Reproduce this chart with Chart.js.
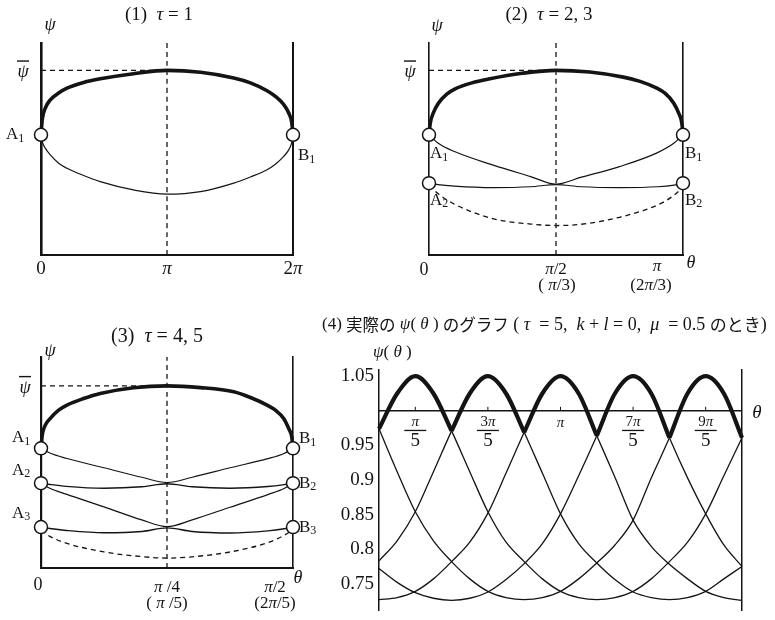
<!DOCTYPE html>
<html>
<head>
<meta charset="utf-8">
<script src="https://cdn.jsdelivr.net/npm/chart.js@4.4.1/dist/chart.umd.min.js"></script>
<style>
  html, body { margin: 0; padding: 0; background: #fff; }
  body { position: relative; width: 775px; height: 620px; overflow: hidden; }
  .panel { position: absolute; }
</style>
</head>
<body>
<div class="panel" style="left:0;top:0;width:330px;height:290px"><canvas id="p1"></canvas></div>
<div class="panel" style="left:390px;top:0;width:385px;height:305px"><canvas id="p2"></canvas></div>
<div class="panel" style="left:0;top:290px;width:330px;height:330px"><canvas id="p3"></canvas></div>
<div class="panel" style="left:320px;top:310px;width:455px;height:310px"><canvas id="p4"></canvas></div>
<script>
// θ in units of π, ψ normalised to the axis height for the sketches (1)-(3)
const theta1 = [0, 0.01, 0.034, 0.074, 0.14, 0.206, 0.338, 0.47, 0.734, 1, 1.266, 1.53, 1.662, 1.794, 1.86, 1.926, 1.966, 1.99, 2];
const p1Upper = [0.567, 0.640, 0.693, 0.732, 0.764, 0.787, 0.814, 0.831, 0.855, 0.871, 0.862, 0.835, 0.812, 0.775, 0.748, 0.710, 0.670, 0.625, 0.567];
const p1Lower = [0.567, 0.535, 0.504, 0.472, 0.433, 0.409, 0.375, 0.346, 0.307, 0.287, 0.299, 0.339, 0.368, 0.402, 0.428, 0.465, 0.496, 0.530, 0.567];
const p1TickVals = [0, 1, 2];
const p1TickText = ["0", "π", "2π"];

const theta2Thin = [0, 0.035, 0.1, 0.25, 0.4, 0.5, 0.6, 0.75, 0.9, 0.965, 1];
const theta2Thick = [0, 0.005, 0.017, 0.037, 0.07, 0.103, 0.169, 0.235, 0.367, 0.5, 0.633, 0.765, 0.831, 0.897, 0.93, 0.963, 0.983, 0.995, 1];
const p2Upper = [0.567, 0.622, 0.670, 0.716, 0.759, 0.784, 0.812, 0.830, 0.857, 0.871, 0.863, 0.839, 0.819, 0.787, 0.762, 0.717, 0.669, 0.625, 0.567];
const p2Lower1 = [0.567, 0.528, 0.488, 0.425, 0.370, 0.334, 0.367, 0.417, 0.483, 0.528, 0.567];
const p2Flat2 = [0.339, 0.332, 0.325, 0.318, 0.322, 0.332, 0.322, 0.318, 0.322, 0.330, 0.339];
const p2Dashed = [0.330, 0.290, 0.240, 0.172, 0.146, 0.139, 0.145, 0.178, 0.236, 0.282, 0.320];

const theta3Thin = [0, 0.0175, 0.05, 0.125, 0.2, 0.25, 0.3, 0.375, 0.45, 0.4825, 0.5];
const theta3Thick = [0, 0.0025, 0.0085, 0.0185, 0.035, 0.0515, 0.0845, 0.1175, 0.1835, 0.25, 0.3165, 0.3825, 0.4155, 0.4485, 0.465, 0.4815, 0.4915, 0.4975, 0.5];
const p3Upper = [0.567, 0.630, 0.677, 0.709, 0.748, 0.772, 0.803, 0.827, 0.854, 0.863, 0.855, 0.835, 0.808, 0.772, 0.748, 0.709, 0.661, 0.622, 0.567];
const p3Lower1 = [0.567, 0.545, 0.520, 0.475, 0.430, 0.405, 0.430, 0.475, 0.518, 0.543, 0.567];
const p3Flat2 = [0.402, 0.396, 0.387, 0.378, 0.385, 0.399, 0.385, 0.378, 0.386, 0.395, 0.402];
const p3Lower2 = [0.402, 0.378, 0.350, 0.290, 0.228, 0.196, 0.228, 0.288, 0.348, 0.377, 0.402];
const p3Flat3 = [0.194, 0.187, 0.178, 0.167, 0.173, 0.190, 0.173, 0.166, 0.176, 0.186, 0.194];
const p3Dashed = [0.180, 0.150, 0.118, 0.076, 0.054, 0.047, 0.053, 0.076, 0.120, 0.155, 0.180];

// (4) computed ψ(θ), τ=5 : one branch per peak
const theta4 = [0, 0.1, 0.2, 0.3, 0.4, 0.5, 0.6, 0.7, 0.8, 0.9, 1.0, 1.1, 1.2, 1.3, 1.4, 1.5, 1.6, 1.7, 1.8, 1.9, 2.0];
const arc1 = [0.974, 1.025, 1.05, 1.025, 0.971, 0.912, 0.854, 0.810, 0.782, 0.757, 0.739, 0.730, 0.727, 0.730, 0.739, 0.757, 0.782, 0.810, 0.851, 0.906, 0.961];
const arc2 = [0.783, 0.812, 0.854, 0.912, 0.971, 1.025, 1.05, 1.025, 0.969, 0.910, 0.851, 0.808, 0.780, 0.756, 0.738, 0.730, 0.727, 0.730, 0.739, 0.757, 0.775];
const arc3 = [0.727, 0.730, 0.739, 0.757, 0.782, 0.810, 0.852, 0.910, 0.969, 1.025, 1.05, 1.025, 0.964, 0.904, 0.842, 0.804, 0.778, 0.757, 0.739, 0.730, 0.726];
const arc4 = [0.772, 0.752, 0.737, 0.729, 0.726, 0.729, 0.738, 0.756, 0.779, 0.808, 0.851, 0.906, 0.964, 1.025, 1.05, 1.025, 0.961, 0.903, 0.851, 0.806, 0.775];
const arc5 = [0.974, 0.912, 0.854, 0.812, 0.782, 0.757, 0.739, 0.730, 0.727, 0.730, 0.739, 0.757, 0.780, 0.806, 0.842, 0.903, 0.961, 1.025, 1.05, 1.025, 0.961];
const yTicks4 = [1.05, 0.95, 0.9, 0.85, 0.8, 0.75];
const xTicks4 = [0.2, 0.6, 1, 1.4, 1.8];
const xTickNum4 = ["π", "3π", "π", "7π", "9π"];
const xTickDen4 = ["5", "5", "", "5", "5"];

const SERIF = "'Liberation Serif', 'DejaVu Serif', serif";
const CJK = "'Noto Sans CJK JP', sans-serif";
const LINE = "#141414";
const R = s => `${s}px ${SERIF}`;
const I = s => `italic ${s}px ${SERIF}`;

function pts(xs, ys) {
    return xs.map((x, i) => ({ x, y: ys[i] }));
}

function curve(data, width, extra) {
    return Object.assign({
        data,
        borderColor: LINE,
        borderWidth: width,
        pointRadius: 0,
        tension: 0.4,
        cubicInterpolationMode: "monotone",
        clip: false,
        fill: false,
        order: 2,
    }, extra || {});
}

function guide(data) {
    return curve(data, 1.3, { borderDash: [5, 4], tension: 0, order: 3 });
}

function nodes(data) {
    return {
        data,
        showLine: false,
        pointRadius: 6.5,
        pointBackgroundColor: "#fff",
        pointBorderColor: LINE,
        pointBorderWidth: 1.5,
        clip: false,
        order: 0,
    };
}

function frame(xMax, yMin, yMax, pad, w) {
    const axis = (min, max, width, extra) => Object.assign({
        type: "linear",
        min,
        max,
        ticks: { display: false },
        grid: { display: false, drawTicks: false },
        border: { display: width > 0, color: LINE, width: width || 1 },
    }, extra || {});
    return {
        responsive: true,
        maintainAspectRatio: false,
        animation: false,
        events: [],
        layout: { padding: pad },
        plugins: { legend: { display: false }, tooltip: { enabled: false } },
        scales: {
            x: axis(0, xMax, w.bottom, { position: "bottom" }),
            y: axis(yMin, yMax, w.left, { position: "left" }),
            yR: axis(yMin, yMax, w.right, { position: "right" }),
        },
    };
}

// split a label into runs: kana/kanji, italic letters, upright rest
function runs(str, size, cjkSize) {
    const out = [];
    for (const ch of str) {
        let f = R(size);
        if (/[\u3040-\u30ff\u4e00-\u9fff]/.test(ch)) f = `${cjkSize || size}px ${CJK}`;
        else if (/[a-zα-ω]/.test(ch)) f = I(size);
        const last = out[out.length - 1];
        if (last && last[1] === f) last[0] += ch;
        else out.push([ch, f]);
    }
    return out;
}

function rich(ctx, parts, x, y, align) {
    let w = 0;
    parts.forEach(p => { ctx.font = p[1]; w += ctx.measureText(p[0]).width; });
    let cx = align === "center" ? x - w / 2 : align === "right" ? x - w : x;
    ctx.textAlign = "left";
    ctx.textBaseline = "middle";
    parts.forEach(p => {
        ctx.font = p[1];
        ctx.fillText(p[0], cx, y + (p[2] || 0));
        cx += ctx.measureText(p[0]).width;
    });
    return cx;
}

function text(ctx, str, size, x, y, align) {
    return rich(ctx, runs(str, size), x, y, align);
}

function point(ctx, base, sub, x, y) {
    rich(ctx, [[base, R(17)], [sub, R(12), 4]], x, y, "left");
}

function psiBar(ctx, x, y) {
    text(ctx, "ψ", 18, x, y, "center");
    ctx.fillRect(x - 6, y - 12, 12, 1.4);
}

function scalesOf(chart) {
    return {
        X: v => chart.scales.x.getPixelForValue(v),
        Y: v => chart.scales.y.getPixelForValue(v),
        a: chart.chartArea,
        ctx: chart.ctx,
    };
}

// (1) τ = 1
const psiBar1 = Math.max(...p1Upper);
new Chart(document.getElementById("p1"), {
    type: "line",
    data: {
        datasets: [
            nodes([{ x: 0, y: p1Upper[0] }, { x: 2, y: p1Upper[p1Upper.length - 1] }]),
            curve(pts(theta1, p1Upper), 3.6, { order: 1 }),
            curve(pts(theta1, p1Lower), 1.2),
            guide([{ x: 1, y: 0 }, { x: 1, y: 1 }]),
            guide([{ x: 0, y: psiBar1 }, { x: 1, y: psiBar1 }]),
        ],
    },
    options: frame(2, 0, 1, { left: 41, top: 43, right: 37, bottom: 35 }, { left: 2.6, bottom: 2, right: 2 }),
    plugins: [{
        id: "labels1",
        afterDraw(chart) {
            const { X, Y, a, ctx } = scalesOf(chart);
            ctx.save();
            ctx.fillStyle = LINE;
            text(ctx, "(1)  τ = 1", 19, X(1) - 8, 15, "center");
            text(ctx, "ψ", 18, a.left + 9, 25, "center");
            psiBar(ctx, a.left - 18, Y(psiBar1) + 2);
            point(ctx, "A", "1", a.left - 35, Y(p1Upper[0]));
            point(ctx, "B", "1", a.right + 5, Y(p1Upper[p1Upper.length - 1]) + 21);
            p1TickVals.forEach((v, i) => text(ctx, p1TickText[i], 19, X(v), a.bottom + 14, "center"));
            ctx.restore();
        },
    }],
});

// (2) τ = 2, 3
const psiBar2 = Math.max(...p2Upper);
new Chart(document.getElementById("p2"), {
    type: "line",
    data: {
        datasets: [
            nodes([
                { x: 0, y: p2Lower1[0] }, { x: 1, y: p2Lower1[p2Lower1.length - 1] },
                { x: 0, y: p2Flat2[0] }, { x: 1, y: p2Flat2[p2Flat2.length - 1] },
            ]),
            curve(pts(theta2Thick, p2Upper), 3.6, { order: 1 }),
            curve(pts(theta2Thin, p2Lower1), 1.2),
            curve(pts(theta2Thin, p2Flat2), 1.2),
            guide(pts(theta2Thin, p2Dashed)),
            guide([{ x: 0.5, y: 0 }, { x: 0.5, y: 1 }]),
            guide([{ x: 0, y: psiBar2 }, { x: 0.5, y: psiBar2 }]),
        ],
    },
    options: frame(1, 0, 1, { left: 39, top: 43, right: 92, bottom: 50 }, { left: 1.6, bottom: 2, right: 1.6 }),
    plugins: [{
        id: "labels2",
        afterDraw(chart) {
            const { X, Y, a, ctx } = scalesOf(chart);
            ctx.save();
            ctx.fillStyle = LINE;
            text(ctx, "(2)  τ = 2, 3", 19, X(0.5) - 7, 15, "center");
            text(ctx, "ψ", 18, a.left + 8, 26, "center");
            psiBar(ctx, a.left - 19, Y(psiBar2) + 2);
            point(ctx, "A", "1", a.left + 1, Y(p2Lower1[0]) + 19);
            point(ctx, "B", "1", a.right + 2, Y(p2Lower1[p2Lower1.length - 1]) + 19);
            point(ctx, "A", "2", a.left + 1, Y(p2Flat2[0]) + 17);
            point(ctx, "B", "2", a.right + 2, Y(p2Flat2[p2Flat2.length - 1]) + 17);
            text(ctx, "0", 18, X(0) - 5, a.bottom + 15, "center");
            text(ctx, "π/2", 17, X(0.5), a.bottom + 15, "center");
            text(ctx, "( π/3)", 17, X(0.5) + 1, a.bottom + 31, "center");
            text(ctx, "π", 17, X(1) - 26, a.bottom + 12, "center");
            text(ctx, "(2π/3)", 17, X(1) - 32, a.bottom + 31, "center");
            text(ctx, "θ", 18, X(1) + 8, a.bottom + 8, "center");
            ctx.restore();
        },
    }],
});

// (3) τ = 4, 5
const psiBar3 = Math.max(...p3Upper);
new Chart(document.getElementById("p3"), {
    type: "line",
    data: {
        datasets: [
            nodes([
                { x: 0, y: p3Lower1[0] }, { x: 0.5, y: p3Lower1[p3Lower1.length - 1] },
                { x: 0, y: p3Flat2[0] }, { x: 0.5, y: p3Flat2[p3Flat2.length - 1] },
                { x: 0, y: p3Flat3[0] }, { x: 0.5, y: p3Flat3[p3Flat3.length - 1] },
            ]),
            curve(pts(theta3Thick, p3Upper), 3.6, { order: 1 }),
            curve(pts(theta3Thin, p3Lower1), 1.2),
            curve(pts(theta3Thin, p3Flat2), 1.4),
            curve(pts(theta3Thin, p3Lower2), 1.2),
            curve(pts(theta3Thin, p3Flat3), 1.4),
            guide(pts(theta3Thin, p3Dashed)),
            guide([{ x: 0.25, y: 0 }, { x: 0.25, y: 1 }]),
            guide([{ x: 0, y: psiBar3 }, { x: 0.25, y: psiBar3 }]),
        ],
    },
    options: frame(0.5, 0, 1, { left: 41, top: 67, right: 37, bottom: 52 }, { left: 2.2, bottom: 2, right: 1.6 }),
    plugins: [{
        id: "labels3",
        afterDraw(chart) {
            const { X, Y, a, ctx } = scalesOf(chart);
            ctx.save();
            ctx.fillStyle = LINE;
            text(ctx, "(3)  τ = 4, 5", 20, X(0.25) - 10, 47, "center");
            text(ctx, "ψ", 18, a.left + 9, 61, "center");
            psiBar(ctx, a.left - 16, Y(psiBar3) + 2);
            point(ctx, "A", "1", a.left - 29, Y(p3Lower1[0]) - 11);
            point(ctx, "A", "2", a.left - 29, Y(p3Flat2[0]) - 13);
            point(ctx, "A", "3", a.left - 29, Y(p3Flat3[0]) - 14);
            point(ctx, "B", "1", a.right + 6, Y(p3Lower1[p3Lower1.length - 1]) - 10);
            point(ctx, "B", "2", a.right + 6, Y(p3Flat2[p3Flat2.length - 1]));
            point(ctx, "B", "3", a.right + 6, Y(p3Flat3[p3Flat3.length - 1]));
            text(ctx, "0", 18, X(0) - 3, a.bottom + 17, "center");
            text(ctx, "π /4", 17, X(0.25), a.bottom + 20, "center");
            text(ctx, "( π /5)", 17, X(0.25), a.bottom + 36, "center");
            text(ctx, "π/2", 17, X(0.5) - 18, a.bottom + 20, "center");
            text(ctx, "(2π/5)", 17, X(0.5) - 18, a.bottom + 36, "center");
            text(ctx, "θ", 18, X(0.5) + 5, a.bottom + 10, "center");
            ctx.restore();
        },
    }],
});

// (4) actual ψ(θ), τ=5, k+l=0, μ=0.5
const arcs4 = [arc1, arc2, arc3, arc4, arc5];
const thick4 = arcs4.map(c => {
    const top = c.indexOf(Math.max(...c));
    return curve(pts(theta4, c).slice(Math.max(0, top - 2), Math.min(c.length - 1, top + 2) + 1), 4.2, { order: 1 });
});
new Chart(document.getElementById("p4"), {
    type: "line",
    data: {
        datasets: [
            ...thick4,
            ...arcs4.map(c => curve(pts(theta4, c), 1.3)),
            curve([{ x: 0, y: 1 }, { x: 2, y: 1 }], 1.5, { tension: 0 }),
        ],
    },
    options: frame(2, 0.712, 1.059, { left: 59, top: 60, right: 33, bottom: 10 }, { left: 1.5, bottom: 0, right: 1.5 }),
    plugins: [{
        id: "labels4",
        afterDraw(chart) {
            const { X, Y, a, ctx } = scalesOf(chart);
            ctx.save();
            ctx.fillStyle = LINE;
            ctx.strokeStyle = LINE;
            const head = rich(ctx, runs("(4) 実際の ψ( θ ) のグラフ", 17, 16.5), 2, 15, "left");
            rich(ctx, runs(" ( τ  = 5,  k + l = 0,  μ  = 0.5 のとき)", 18, 17), head, 15, "left");
            text(ctx, "ψ( θ )", 17, a.left - 6, 43, "left");
            yTicks4.forEach(v => text(ctx, String(v), 19, a.left - 5, Y(v), "right"));
            text(ctx, "θ", 19, a.right + 15, Y(1) + 2, "center");
            ctx.lineWidth = 1;
            xTicks4.forEach((v, i) => {
                const px = X(v);
                ctx.beginPath();
                ctx.moveTo(px, Y(1));
                ctx.lineTo(px, Y(1) - 4);
                ctx.stroke();
                if (xTickDen4[i]) {
                    text(ctx, xTickNum4[i], 15, px, Y(1) + 11, "center");
                    ctx.fillRect(px - 11, Y(1) + 19, 22, 1.3);
                    text(ctx, xTickDen4[i], 19, px, Y(1) + 30, "center");
                } else {
                    text(ctx, xTickNum4[i], 15, px, Y(1) + 12, "center");
                }
            });
            ctx.restore();
        },
    }],
});
</script>
</body>
</html>
